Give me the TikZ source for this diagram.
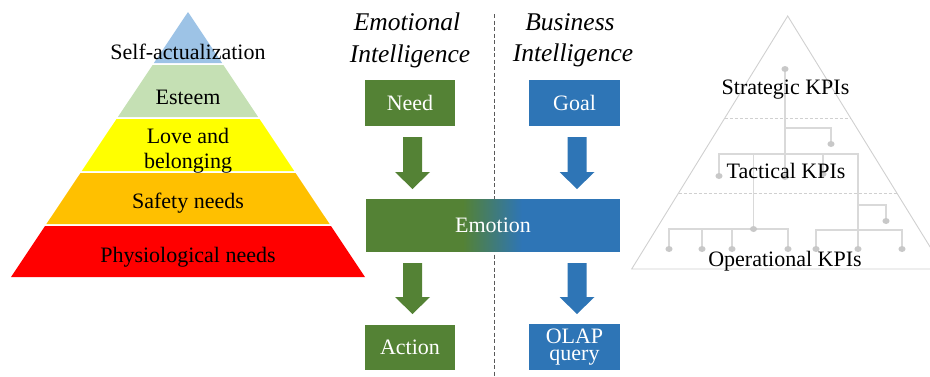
\documentclass[tikz,border=0pt]{standalone}
\usepackage{fontspec}
\setmainfont{Liberation Serif}
\definecolor{eg}{HTML}{548235}
\definecolor{bb}{HTML}{2E75B6}
\definecolor{pyA}{HTML}{9DC3E6}
\definecolor{pyB}{HTML}{C5E0B4}
\definecolor{pyC}{HTML}{FFFF00}
\definecolor{pyD}{HTML}{FFC000}
\definecolor{pyE}{HTML}{FF0000}
\definecolor{triline}{HTML}{D0D0D0}
\definecolor{treeline}{HTML}{D9D9D9}
\definecolor{dotc}{HTML}{C8C8C8}
\definecolor{sepc}{HTML}{595959}
\newcommand\blkarrow[5]{%
  \fill[#5] (#1-9.5,#2) -- (#1+9.5,#2) -- (#1+9.5,#3) -- (#1+17.5,#3) -- (#1,#4) -- (#1-17.5,#3) -- (#1-9.5,#3) -- cycle;}
\begin{document}
\begin{tikzpicture}[x=1pt,y=-1pt,
  lbl/.style={anchor=base, inner sep=0pt, font=\fontsize{22}{25}\selectfont},
  headtxt/.style={anchor=base, inner sep=0pt, font=\fontsize{25.5}{30}\selectfont\itshape},
  box/.style={inner sep=0pt, text=white, font=\fontsize{22}{17.5}\selectfont, align=center},
  tline/.style={draw=treeline, line width=1.1pt},
  dashsep/.style={draw=triline, line width=0.6pt, dash pattern=on 3pt off 2pt}]
\useasboundingbox (0,0) rectangle (930,376);
% ---------- left pyramid ----------
\fill[pyA] (188,12) -- (222.1,63) -- (153.9,63) -- cycle;
\fill[pyB] (152.6,65) -- (223.4,65) -- (258.1,117) -- (117.9,117) -- cycle;
\fill[pyC] (116.5,119) -- (259.5,119) -- (294.2,171) -- (81.8,171) -- cycle;
\fill[pyD] (80.5,173) -- (295.5,173) -- (329.6,224) -- (46.4,224) -- cycle;
\fill[pyE] (45,226) -- (331,226) -- (365,277) -- (11,277) -- cycle;
\node[lbl] (sa) at (188,59) {Self-actualization};
\node[lbl] (es) at (188,104) {Esteem};
\node[lbl] (lo1) at (188,143) {Love and};
\node[lbl] (lo2) at (188,168) {belonging};
\node[lbl] (sf) at (188,208) {Safety needs};
\node[lbl] (ph) at (188,262) {Physiological needs};
% ---------- middle ----------
\coordinate (septop) at (494,14);
\coordinate (sepbot) at (494,376);
\draw[sepc, line width=0.9pt, dash pattern=on 4pt off 2.5pt] (septop) -- (sepbot);
\node[headtxt] (ei1) at (407,30) {Emotional};
\node[headtxt] (ei2) at (410,62) {Intelligence};
\node[headtxt] (bi1) at (570,30) {Business};
\node[headtxt] (bi2) at (573,61) {Intelligence};
\node[box, fill=eg, minimum width=90pt, minimum height=46pt] (need) at (410,103) {Need};
\node[box, fill=bb, minimum width=91pt, minimum height=46pt] (goal) at (574.5,103) {Goal};
% gradient body of the Emotion box
\fill[eg] (366,199) rectangle (463.5,252);
\foreach \i in {0,...,59}{%
  \pgfmathtruncatemacro\pct{round(100*\i/59)}%
  \fill[bb!\pct!eg] (463+\i,199) rectangle (464.3+\i,252);}
\fill[bb] (522.5,199) rectangle (620,252);
\node[box, minimum width=254pt, minimum height=53pt] (emotion) at (493,225.5) {Emotion};
\node[box, fill=eg, minimum width=90pt, minimum height=45pt] (action) at (410,347.5) {Action};
\node[box, fill=bb, minimum width=91pt, minimum height=46pt] (olap) at (574.5,347) {OLAP\\query};
\blkarrow{412.5}{137}{172}{189}{eg}
\blkarrow{577}{137}{172}{189}{bb}
\blkarrow{412.5}{263}{297}{314}{eg}
\blkarrow{577}{263}{297}{314}{bb}
% ---------- right pyramid ----------
\begin{scope}
\clip (0,0) rectangle (930,376);
\draw[triline, line width=0.9pt] (787.7,16) -- (631.7,269) -- (943.7,269) -- cycle;
\end{scope}
\draw[dashsep] (724.8,118) -- (850.6,118);
\draw[dashsep] (678.5,193) -- (896.9,193);
% tree
\draw[tline] (785,69) -- (785,177);
\draw[tline] (785,128) -- (831,128) -- (831,144);
\draw[tline] (719,176) -- (719,154) -- (858,154) -- (858,249);
\draw[tline] (753.5,154) -- (753.5,229);
\draw[tline] (823,154) -- (823,174);
\draw[tline] (858,205) -- (886,205) -- (886,221);
\draw[tline] (669,249) -- (669,229) -- (788,229) -- (788,249);
\draw[tline] (702,229) -- (702,249);
\draw[tline] (732,229) -- (732,249);
\draw[tline] (816,249) -- (816,230) -- (902,230) -- (902,249);
\foreach \p in {(785,69),(831,144),(719,176),(785,177),(823,174),(886,221),(753.5,229),
  (669,249),(702,249),(732,249),(788,249),(816,249),(858,249),(902,249)}
  \fill[dotc] \p ellipse (3.6 and 3);
\node[lbl] (sk) at (785.5,94) {Strategic KPIs};
\node[lbl] (tk) at (786,178) {Tactical KPIs};
\node[lbl] (ok) at (785,266) {Operational KPIs};
\end{tikzpicture}
\end{document}
